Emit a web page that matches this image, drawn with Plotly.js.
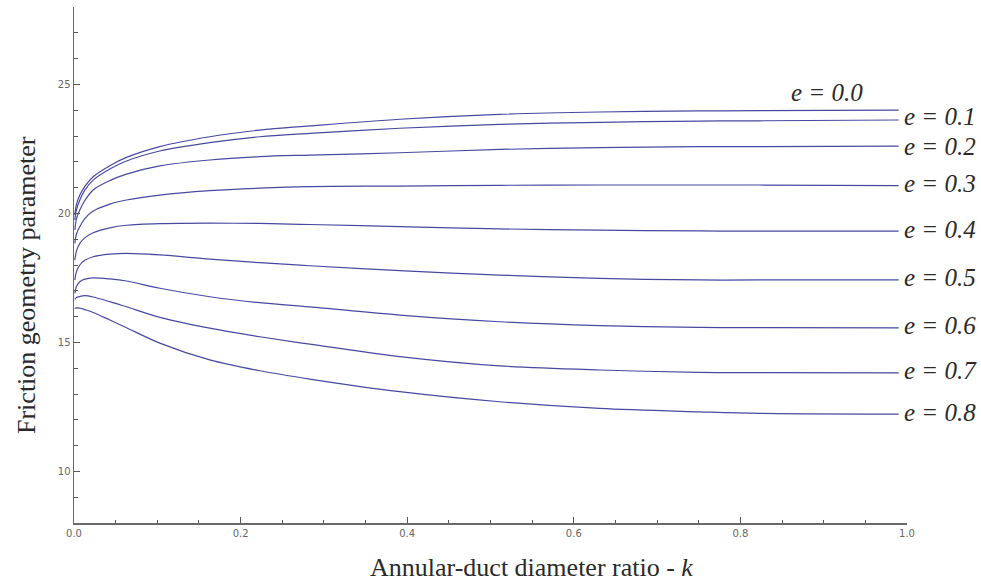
<!DOCTYPE html>
<html>
<head>
<meta charset="utf-8">
<script src="https://cdn.plot.ly/plotly-3.0.1.min.js"></script>
<style>html,body{margin:0;padding:0;background:#fff;}#chart{width:981px;height:585px;}</style>
</head>
<body>
<div id="chart"></div>
<script>
// Annular-duct diameter ratio k
const kValues = [0.001, 0.003, 0.007, 0.013, 0.023, 0.043, 0.063, 0.103, 0.163, 0.223, 0.283, 0.391, 0.511, 0.631, 0.751, 0.823, 0.99];

// Friction geometry parameter for each eccentricity e
const e00 = [19.94, 20.35, 20.71, 21.05, 21.42, 21.85, 22.17, 22.59, 22.97, 23.23, 23.39, 23.65, 23.84, 23.93, 23.97, 23.98, 24.00];
const e01 = [19.74, 20.15, 20.52, 20.90, 21.29, 21.72, 22.03, 22.42, 22.74, 22.97, 23.10, 23.30, 23.45, 23.53, 23.58, 23.59, 23.62];
const e02 = [19.36, 19.80, 20.13, 20.50, 20.91, 21.27, 21.52, 21.84, 22.07, 22.20, 22.26, 22.35, 22.48, 22.55, 22.59, 22.59, 22.61];
const e03 = [18.84, 19.20, 19.49, 19.80, 20.09, 20.36, 20.52, 20.71, 20.88, 20.98, 21.04, 21.06, 21.09, 21.10, 21.10, 21.10, 21.08];
const e04 = [18.19, 18.55, 18.84, 19.05, 19.25, 19.44, 19.54, 19.60, 19.62, 19.61, 19.57, 19.49, 19.40, 19.35, 19.32, 19.31, 19.31];
const e05 = [17.42, 17.75, 18.00, 18.18, 18.32, 18.42, 18.45, 18.39, 18.23, 18.09, 17.97, 17.78, 17.61, 17.48, 17.42, 17.42, 17.42];
const e06 = [16.90, 17.18, 17.35, 17.45, 17.50, 17.46, 17.38, 17.10, 16.77, 16.54, 16.38, 16.06, 15.80, 15.65, 15.58, 15.57, 15.56];
const e07 = [16.67, 16.74, 16.78, 16.81, 16.76, 16.58, 16.38, 15.97, 15.55, 15.22, 14.93, 14.45, 14.09, 13.93, 13.84, 13.83, 13.82];
const e08 = [16.32, 16.34, 16.33, 16.27, 16.16, 15.87, 15.57, 14.97, 14.32, 13.90, 13.58, 13.09, 12.70, 12.44, 12.31, 12.25, 12.22];

const seriesNames = ["e = 0.0", "e = 0.1", "e = 0.2", "e = 0.3", "e = 0.4", "e = 0.5", "e = 0.6", "e = 0.7", "e = 0.8"];
const seriesValues = [e00, e01, e02, e03, e04, e05, e06, e07, e08];

const xTickVals = [0.0, 0.2, 0.4, 0.6, 0.8, 1.0];
const xTickText = ["0.0", "0.2", "0.4", "0.6", "0.8", "1.0"];
const yTickVals = [10, 15, 20, 25];
const yTickText = ["10", "15", "20", "25"];

const xTitle = "Annular-duct diameter ratio - <i>k</i>";
const yTitle = "Friction geometry parameter";

const lineColor = "rgb(72,72,162)";
const serif = "'Liberation Serif', 'Times New Roman', serif";

const traces = seriesValues.map((vals, i) => ({
  type: "scatter",
  mode: "lines",
  x: kValues,
  y: vals,
  name: seriesNames[i],
  line: {color: lineColor, width: 1.2, shape: "spline", smoothing: 0.9},
  hoverinfo: "skip",
  showlegend: false
}));

const labelShift = [18, 4, 0, 2, 2, 2, 2, 2, 2];
const lastK = kValues[kValues.length - 1];
const annotations = seriesValues.map((vals, i) => {
  const last = vals[vals.length - 1];
  if (i === 0) {
    return {
      x: 0.904, y: last, xref: "x", yref: "y",
      text: "<i>" + seriesNames[i] + "</i>",
      showarrow: false, xanchor: "center", yanchor: "middle", yshift: labelShift[i],
      font: {family: serif, size: 25, color: "#2a2a2a"}
    };
  }
  return {
    x: lastK, y: last, xref: "x", yref: "y",
    text: "<i>" + seriesNames[i] + "</i>",
    showarrow: false, xanchor: "left", yanchor: "middle", xshift: 3, yshift: labelShift[i],
    font: {family: serif, size: 25, color: "#2a2a2a"}
  };
});

// pixel-placed axis titles converted to paper coords
const W = 981, H = 585, mL = 74, mR = 74, mT = 7, mB = 62;
const pw = W - mL - mR, ph = H - mT - mB;
annotations.push({
  x: (531 - mL) / pw, y: (H - mB - 567) / ph, xref: "paper", yref: "paper",
  text: xTitle, showarrow: false,
  font: {family: serif, size: 26, color: "#2a2a2a"}, xanchor: "center", yanchor: "middle"
});
annotations.push({
  x: (26 - mL) / pw, y: (H - mB - 285) / ph, xref: "paper", yref: "paper",
  text: yTitle, showarrow: false, textangle: -90,
  font: {family: serif, size: 26, color: "#2a2a2a"}, xanchor: "center", yanchor: "middle"
});

const layout = {
  width: W, height: H,
  margin: {l: mL, r: mR, t: mT, b: mB, pad: 0},
  paper_bgcolor: "#ffffff", plot_bgcolor: "#ffffff",
  showlegend: false,
  xaxis: {
    range: [0, 1], showgrid: false, zeroline: false,
    showline: true, linecolor: "#6a6a6a", linewidth: 1.5,
    ticks: "inside", ticklen: 6, tickwidth: 1, tickcolor: "#555",
    tickvals: xTickVals, ticktext: xTickText,
    tickfont: {family: "'DejaVu Sans', sans-serif", size: 10, color: "#666"},
    minor: {dtick: 0.05, ticks: "inside", ticklen: 3.5, tickwidth: 1, tickcolor: "#555", showgrid: false},
    fixedrange: true
  },
  yaxis: {
    range: [8, 28], showgrid: false, zeroline: false,
    showline: true, linecolor: "#6a6a6a", linewidth: 1.5,
    ticks: "inside", ticklen: 6, tickwidth: 1, tickcolor: "#555",
    tickvals: yTickVals, ticktext: yTickText,
    tickfont: {family: "'DejaVu Sans', sans-serif", size: 10, color: "#666"},
    minor: {dtick: 1, ticks: "inside", ticklen: 3.5, tickwidth: 1, tickcolor: "#555", showgrid: false},
    fixedrange: true
  },
  annotations: annotations
};

Plotly.newPlot("chart", traces, layout, {displayModeBar: false, staticPlot: true});
</script>
</body>
</html>
